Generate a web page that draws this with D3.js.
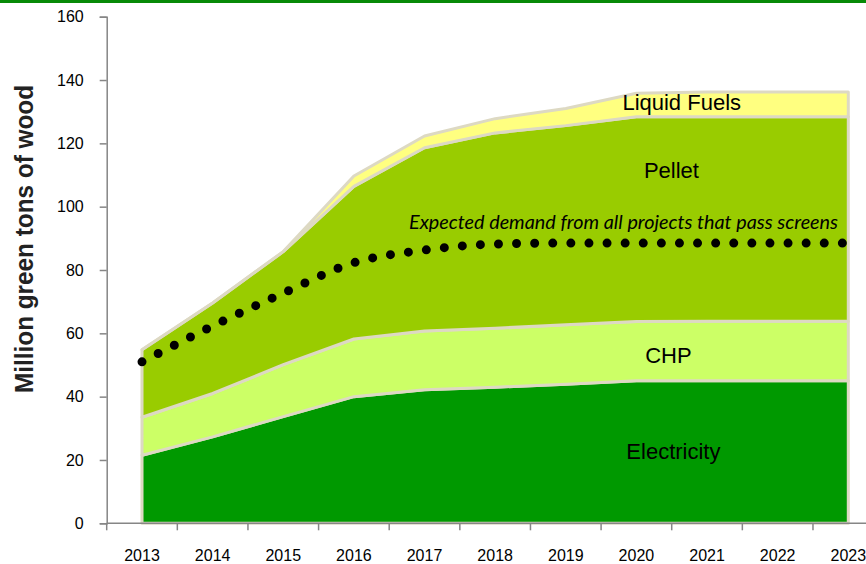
<!DOCTYPE html>
<html>
<head>
<meta charset="utf-8">
<script src="https://cdn.jsdelivr.net/npm/d3@7"></script>
<style>
  body { margin: 0; background: #fff; }
  svg { display: block; font-family: "Liberation Sans", Arial, sans-serif; }
</style>
</head>
<body>
<div id="chart"></div>
<script>
// values (million green tons)
const years = ['2013', '2014', '2015', '2016', '2017', '2018', '2019', '2020', '2021', '2022', '2023'];
const electricity = [21.5, 27.3, 33.7, 40.0, 42.2, 43.0, 43.9, 45.0, 45.0, 45.0, 45.0];
const chp = [12.0, 13.7, 16.4, 18.2, 18.5, 18.6, 18.8, 18.7, 18.8, 18.8, 18.8];
const pellet = [21.3, 28.6, 35.7, 48.2, 57.9, 61.7, 62.9, 64.7, 64.6, 64.6, 64.6];
const liquidFuels = [0, 0, 0, 3.3, 3.7, 4.5, 5.4, 7.4, 7.8, 7.8, 7.8];
const demand = [51.0, 62.3, 72.7, 82.3, 86.3, 88.2, 88.5, 88.5, 88.5, 88.5, 88.5];
const yTicks = [0, 20, 40, 60, 80, 100, 120, 140, 160];

const seriesKeys = ['Electricity', 'CHP', 'Pellet', 'Liquid Fuels'];
const seriesColors = {
    'Electricity': '#009900',
    'CHP': '#ccff66',
    'Pellet': '#99cc00',
    'Liquid Fuels': '#ffff80'
};

const width = 866, height = 564;
const plot = {left: 106.7, right: 883.6, top: 16.7, bottom: 523.3};
const outline = '#ddd9c3';
const axisColor = '#868686';

const rows = years.map((y, i) => ({
    year: y,
    'Electricity': electricity[i],
    'CHP': chp[i],
    'Pellet': pellet[i],
    'Liquid Fuels': liquidFuels[i]
}));

const svg = d3.select('#chart').append('svg')
    .attr('width', width)
    .attr('height', height);

// green strip along the top
svg.append('rect')
    .attr('x', 0).attr('y', 0)
    .attr('width', width).attr('height', 3)
    .attr('fill', '#078a07');

const x = d3.scaleBand()
    .domain(years)
    .range([plot.left, plot.right]);
const cx = d => x(d) + x.bandwidth() / 2;

const y = d3.scaleLinear()
    .domain([0, 160])
    .range([plot.bottom, plot.top]);

const stacked = d3.stack().keys(seriesKeys)(rows);

const area = d3.area()
    .x(d => cx(d.data.year))
    .y0(d => y(d[0]))
    .y1(d => y(d[1]));

svg.append('g')
    .selectAll('path')
    .data(stacked)
    .join('path')
    .attr('d', area)
    .attr('fill', d => seriesColors[d.key])
    .attr('stroke', outline)
    .attr('stroke-width', 3)
    .attr('stroke-linejoin', 'round');

// series labels inside the areas
const labels = [
    {text: 'Liquid Fuels', year: '2020', value: 136, dx: -14, dy: 17.5, anchor: 'start'},
    {text: 'Pellet', year: '2020', value: 128, dx: 35, dy: 60, anchor: 'middle'},
    {text: 'CHP', year: '2020', value: 64, dx: 32, dy: 42, anchor: 'middle'},
    {text: 'Electricity', year: '2020', value: 45, dx: 37, dy: 78.5, anchor: 'middle'}
];
svg.append('g')
    .selectAll('text')
    .data(labels)
    .join('text')
    .attr('x', d => cx(d.year) + d.dx)
    .attr('y', d => y(d.value) + d.dy)
    .attr('text-anchor', d => d.anchor)
    .style('font-size', '22px')
    .style('fill', '#000')
    .text(d => d.text);

// demand, dotted line
const demandLine = d3.line()
    .x((d, i) => cx(years[i]))
    .y(d => y(d))
    .curve(d3.curveMonotoneX);

svg.append('path')
    .datum(demand)
    .attr('d', demandLine)
    .attr('fill', 'none')
    .attr('stroke', '#000')
    .attr('stroke-width', 9)
    .attr('stroke-linecap', 'round')
    .attr('stroke-dasharray', '0 18.1');

svg.append('text')
    .attr('x', 409)
    .attr('y', 228.5)
    .attr('textLength', 429)
    .attr('lengthAdjust', 'spacingAndGlyphs')
    .style('font-family', 'Lato, "Open Sans", sans-serif')
    .style('font-style', 'italic')
    .style('font-size', '18.5px')
    .style('fill', '#000')
    .text('Expected demand from all projects that pass screens');

// y axis
const yAxis = svg.append('g')
    .attr('transform', `translate(${plot.left},0)`)
    .call(d3.axisLeft(y).tickValues(yTicks).tickSize(7).tickPadding(16));
yAxis.select('.domain').attr('stroke', axisColor).attr('stroke-width', 1.5);
yAxis.selectAll('.tick line').attr('stroke', axisColor).attr('stroke-width', 1.5);
yAxis.selectAll('.tick text')
    .style('font-size', '16px')
    .style('font-family', '"Liberation Sans", Arial, sans-serif')
    .attr('fill', '#000');

// x axis: labels centred on categories, ticks between them
const xAxis = svg.append('g')
    .attr('transform', `translate(0,${plot.bottom})`)
    .call(d3.axisBottom(x).tickSize(0).tickPadding(26));
xAxis.select('.domain').remove();
xAxis.selectAll('.tick text')
    .style('font-size', '16px')
    .style('font-family', '"Liberation Sans", Arial, sans-serif')
    .attr('fill', '#000');

xAxis.append('line')
    .attr('x1', plot.left).attr('x2', plot.right)
    .attr('stroke', axisColor).attr('stroke-width', 1.5);
xAxis.selectAll('line.sep')
    .data(years)
    .join('line')
    .attr('class', 'sep')
    .attr('x1', d => x(d)).attr('x2', d => x(d))
    .attr('y1', 0).attr('y2', 7)
    .attr('stroke', axisColor).attr('stroke-width', 1.5);

// y title
svg.append('text')
    .attr('transform', 'translate(33,239) rotate(-90)')
    .attr('text-anchor', 'middle')
    .attr('textLength', 308)
    .attr('lengthAdjust', 'spacingAndGlyphs')
    .style('font-size', '26px')
    .style('font-weight', 'bold')
    .style('fill', '#222')
    .text('Million green tons of wood');
</script>
</body>
</html>
